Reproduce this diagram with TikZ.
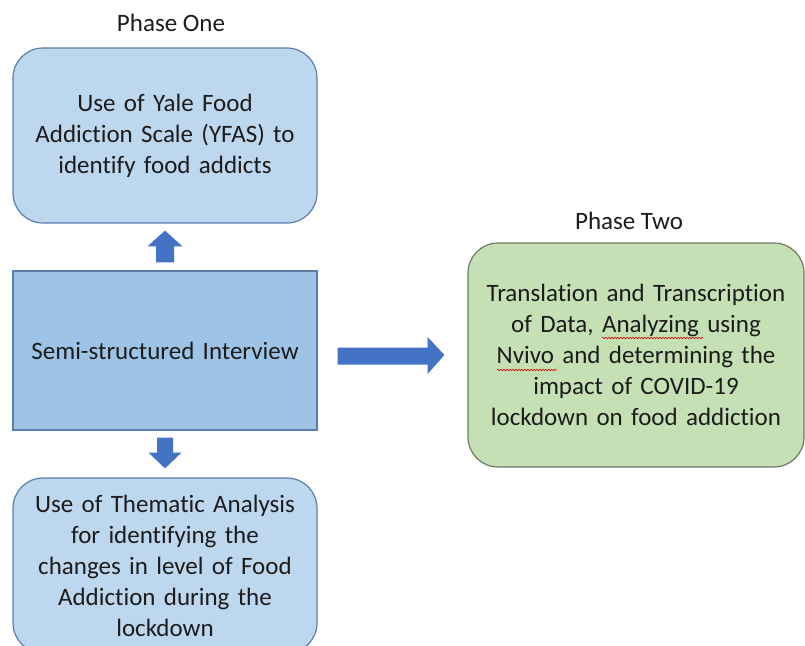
\documentclass[tikz,border=0pt]{standalone}
\usepackage{fontspec}
\setmainfont{Carlito}[Ligatures=NoCommon]
\usetikzlibrary{calc,decorations.pathmorphing}

\definecolor{textc}{HTML}{1C1C1C}
\definecolor{lightblue}{HTML}{BDD7EE}
\definecolor{midblue}{HTML}{9DC3E6}
\definecolor{blueedge}{HTML}{5B7FA8}
\definecolor{arrowblue}{HTML}{4472C4}
\definecolor{lightgreen}{HTML}{C5E0B4}
\definecolor{greenedge}{HTML}{6F7A68}

\tikzset{
  box/.style={draw=blueedge, line width=1.2pt, fill=lightblue, rounded corners=30pt,
    minimum width=304pt, text width=296pt, align=center, inner sep=0pt,
    font=\fontsize{25}{31}\selectfont, text=textc},
  plainbox/.style={box, rounded corners=0pt, fill=midblue},
  greenbox/.style={box, draw=greenedge, fill=lightgreen, minimum width=336pt, text width=330pt},
  phase/.style={font=\fontsize{25}{29}\selectfont, text=textc, inner sep=0pt},
  blockarrow/.style={fill=arrowblue, draw=none},
  spell/.style={draw=red!85!black, line width=0.6pt, decorate,
    decoration={snake, amplitude=0.8pt, segment length=3pt}}
}

\begin{document}
\begin{tikzpicture}[x=1pt, y=-1pt]
  \useasboundingbox (0,0) rectangle (805,645);
  \clip (0,0) rectangle (805,645);
  \fill[white] (0,0) rectangle (805,645);

  % phase titles
  \node[phase] (p1) at (171,23) {Phase One};
  \node[phase] (p2) at (629,221) {Phase Two};

  % phase one boxes
  \node[box, minimum height=175pt] (yfas) at (165,135.5)
    {Use of Yale Food\\Addiction Scale (YFAS) to\\identify food addicts};
  \node[plainbox, minimum height=159pt] (interview) at (165,350.5)
    {Semi-structured Interview};
  \node[box, minimum height=175pt] (thematic) at (165,565.5)
    {Use of Thematic Analysis\\for identifying the\\changes in level of Food\\Addiction during the\\lockdown};

  % phase two box
  \node[greenbox, minimum height=224pt] (nvivo) at (636,355)
    {Translation and Transcription\\of Data, Analyzing using\\Nvivo and determining the\\impact of COVID-19\\lockdown on food addiction};

  % block arrows
  \coordinate (ua) at ($(interview.north)+(0,-8)$);
  \fill[blockarrow] ($(ua)+(-9,0)$) -- ($(ua)+(9,0)$) -- ($(ua)+(9,-16)$) -- ($(ua)+(17.5,-16)$)
    -- ($(yfas.south)+(0,7)$) -- ($(ua)+(-17.5,-16)$) -- ($(ua)+(-9,-16)$) -- cycle;

  \coordinate (da) at ($(interview.south)+(0,7)$);
  \fill[blockarrow] ($(da)+(-8,0)$) -- ($(da)+(8,0)$) -- ($(da)+(8,15)$) -- ($(da)+(16.5,15)$)
    -- ($(thematic.north)+(0,-9)$) -- ($(da)+(-16.5,15)$) -- ($(da)+(-8,15)$) -- cycle;

  \coordinate (ra) at ($(interview.east)+(20,5.5)$);
  \fill[blockarrow] ($(ra)+(0,-8.5)$) -- ($(ra)+(90,-8.5)$) -- ($(ra)+(90,-19)$)
    -- ($(nvivo.west)+(-23,0)$) -- ($(ra)+(90,18)$) -- ($(ra)+(90,8.5)$) -- ($(ra)+(0,8.5)$) -- cycle;

  % spell-check marks
  \draw[spell] (602,338) -- (703,338);
  \draw[spell] (497,370) -- (557,370);
\end{tikzpicture}
\end{document}
